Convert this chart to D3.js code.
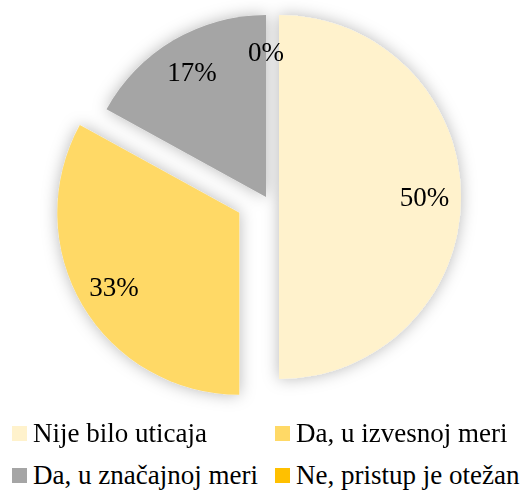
<!DOCTYPE html>
<html>
<head>
<meta charset="utf-8">
<script src="https://cdn.jsdelivr.net/npm/d3@7"></script>
<style>
  body { margin: 0; background: #fff; }
  svg text { font-family: "Liberation Serif", "Times New Roman", serif; fill: #000; }
</style>
</head>
<body>
<svg width="531" height="491"></svg>
<script>
// **** data ****
var categories = ["Nije bilo uticaja", "Da, u izvesnoj meri", "Da, u značajnoj meri", "Ne, pristup je otežan"];
var values = [50, 33, 17, 0];
var labels = ["50%", "33%", "17%", "0%"];

// **** styles ****
var colors = ["#FFF2CC", "#FFD966", "#A5A5A5", "#FFC000"];
var explode = [13, 31, 0, 0];

var width = 531, height = 491;
var cx = 266, cy = 197, radius = 182;

var svg = d3.select("svg");

// soft shadow around the slices
var defs = svg.append("defs");
var f = defs.append("filter").attr("id", "shadow")
    .attr("x", "-20%").attr("y", "-20%").attr("width", "140%").attr("height", "140%");
f.append("feGaussianBlur").attr("in", "SourceAlpha").attr("stdDeviation", 8).attr("result", "blur");
f.append("feFlood").attr("flood-color", "#000").attr("flood-opacity", 0.28);
f.append("feComposite").attr("in2", "blur").attr("operator", "in").attr("result", "shadow");
var merge = f.append("feMerge");
merge.append("feMergeNode").attr("in", "shadow");
merge.append("feMergeNode").attr("in", "SourceGraphic");

var pie = d3.pie().sort(null).value(function(d) { return d; });
var arcs = pie(values);

var arc = d3.arc().innerRadius(0).outerRadius(radius);
var labelArc = d3.arc().innerRadius(radius * 0.8).outerRadius(radius * 0.8);

function offset(d, i) {
    var a = (d.startAngle + d.endAngle) / 2;
    return [Math.sin(a) * explode[i], -Math.cos(a) * explode[i]];
}

var g = svg.append("g").attr("transform", "translate(" + cx + "," + cy + ")");

g.append("g")
    .attr("filter", "url(#shadow)")
    .selectAll("path")
    .data(arcs)
    .enter()
    .append("path")
        .attr("d", arc)
        .attr("fill", function(d, i) { return colors[i]; })
        .attr("transform", function(d, i) {
            var o = offset(d, i);
            return "translate(" + o[0] + "," + o[1] + ")";
        });

g.append("g")
    .selectAll("text")
    .data(arcs)
    .enter()
    .append("text")
        .attr("transform", function(d, i) {
            var o = offset(d, i);
            var c = labelArc.centroid(d);
            return "translate(" + (c[0] + o[0]) + "," + (c[1] + o[1]) + ")";
        })
        .attr("text-anchor", "middle")
        .attr("dy", "0.35em")
        .style("font-size", "27px")
        .text(function(d, i) { return labels[i]; });

// **** legend ****
var colX = [12, 275];
var rowY = [442, 484];

var legend = svg.append("g")
    .selectAll("g")
    .data(categories)
    .enter()
    .append("g")
        .attr("transform", function(d, i) {
            return "translate(" + colX[i % 2] + "," + rowY[Math.floor(i / 2)] + ")";
        });

legend.append("rect")
    .attr("x", 0)
    .attr("y", -16)
    .attr("width", 15)
    .attr("height", 15)
    .attr("fill", function(d, i) { return colors[i]; });

legend.append("text")
    .attr("x", 21)
    .attr("y", 0)
    .style("font-size", "27px")
    .text(function(d) { return d; });
</script>
</body>
</html>
